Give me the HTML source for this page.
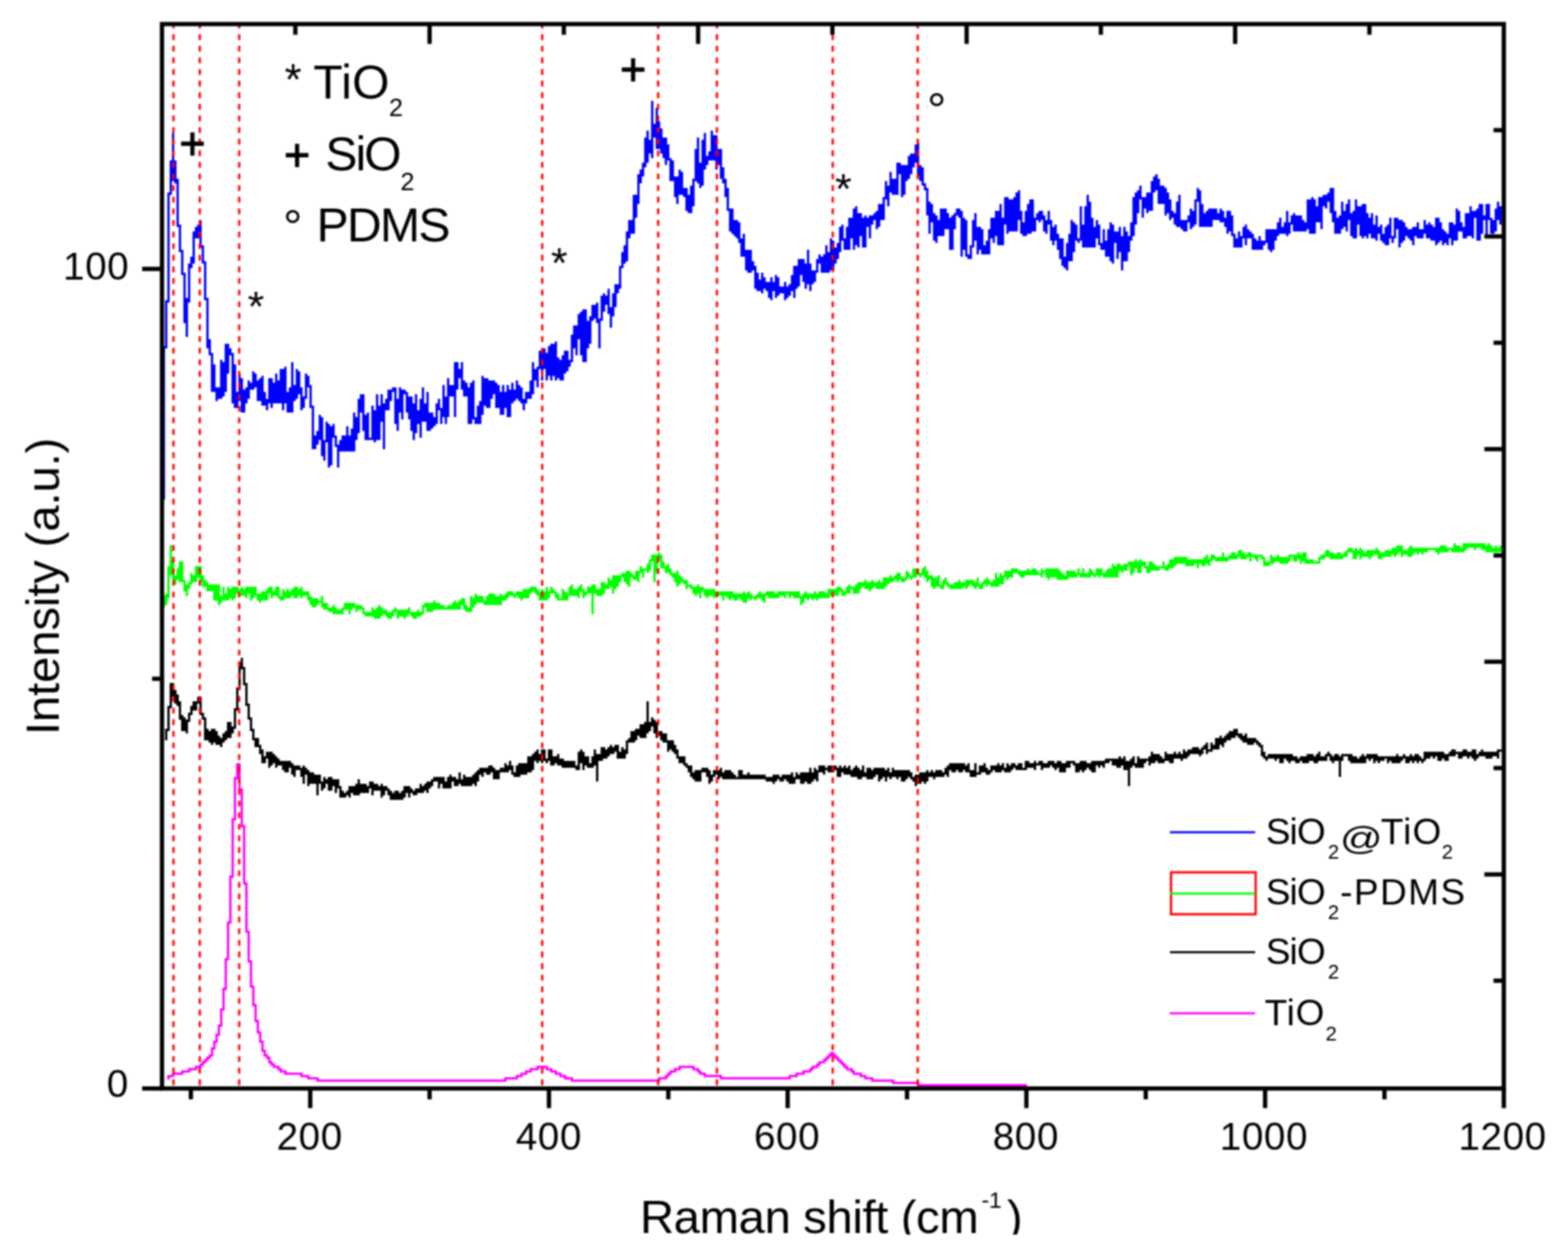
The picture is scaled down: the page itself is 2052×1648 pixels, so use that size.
<!DOCTYPE html>
<html><head><meta charset="utf-8"><title>Raman spectra</title>
<style>html,body{margin:0;padding:0;background:#fff;}svg{display:block;}#plot{width:2052px;height:1648px;overflow:hidden;filter:blur(0.8px);}</style>
</head><body>
<div id="plot">
<svg width="2052" height="1648" viewBox="0 0 2052 1648" font-family='"Liberation Sans", Arial, sans-serif'>
<rect x="0" y="0" width="2052" height="1648" fill="#fff"/>
<path d="M213 453h3v201h-3zM216 393h3v63h-3zM219 252h3v144h-3zM222 210h3v45h-3zM225 174h3v63h-3zM228 210h3v30h-3zM231 234h3v63h-3zM234 294h3v36h-3zM237 327h3v33h-3zM240 357h3v66h-3zM243 390h3v51h-3zM246 345h3v51h-3zM249 336h3v15h-3zM252 303h3v42h-3zM255 297h3v15h-3zM258 294h3v18h-3zM261 288h3v36h-3zM264 321h3v24h-3zM267 342h3v51h-3zM270 390h3v66h-3zM273 444h3v21h-3zM276 462h3v51h-3zM279 477h3v36h-3zM282 507h3v18h-3zM285 507h3v15h-3zM288 471h3v51h-3zM291 474h3v45h-3zM294 450h3v63h-3zM297 450h3v39h-3zM300 456h3v9h-3zM303 462h3v66h-3zM306 477h3v57h-3zM309 513h3v21h-3zM312 489h3v36h-3zM315 495h3v45h-3zM318 510h3v30h-3zM321 507h3v21h-3zM324 498h3v24h-3zM327 501h3v9h-3zM330 486h3v24h-3zM333 489h3v18h-3zM336 498h3v27h-3zM339 495h3v30h-3zM342 492h3v39h-3zM345 513h3v18h-3zM348 522h3v15h-3zM351 495h3v33h-3zM354 495h3v39h-3zM357 501h3v27h-3zM360 489h3v39h-3zM363 498h3v30h-3zM366 483h3v45h-3zM369 483h3v54h-3zM372 480h3v48h-3zM375 513h3v27h-3zM378 507h3v33h-3zM381 474h3v66h-3zM384 504h3v21h-3zM387 483h3v39h-3zM390 486h3v30h-3zM393 507h3v30h-3zM396 519h3v15h-3zM399 489h3v33h-3zM402 492h3v15h-3zM405 504h3v30h-3zM408 531h3v57h-3zM411 570h3v18h-3zM414 564h3v18h-3zM417 543h3v33h-3zM420 546h3v51h-3zM423 576h3v27h-3zM426 552h3v27h-3zM429 555h3v57h-3zM432 558h3v51h-3zM435 555h3v18h-3zM438 570h3v15h-3zM441 582h3v30h-3zM444 576h3v15h-3zM447 570h3v21h-3zM450 570h3v21h-3zM453 558h3v33h-3zM456 570h3v21h-3zM459 561h3v30h-3zM462 540h3v51h-3zM465 546h3v30h-3zM468 522h3v45h-3zM471 516h3v24h-3zM474 516h3v48h-3zM477 543h3v33h-3zM480 540h3v36h-3zM483 573h3v3h-3zM486 531h3v45h-3zM489 537h3v42h-3zM492 516h3v60h-3zM495 531h3v45h-3zM498 516h3v36h-3zM501 528h3v60h-3zM504 522h3v15h-3zM507 510h3v27h-3zM510 510h3v15h-3zM513 507h3v6h-3zM516 507h3v48h-3zM519 522h3v42h-3zM522 507h3v33h-3zM525 510h3v39h-3zM528 510h3v6h-3zM531 513h3v27h-3zM534 519h3v30h-3zM537 519h3v45h-3zM540 528h3v48h-3zM543 516h3v51h-3zM546 537h3v18h-3zM549 522h3v51h-3zM552 507h3v45h-3zM555 528h3v24h-3zM558 513h3v51h-3zM561 540h3v24h-3zM564 540h3v21h-3zM567 546h3v12h-3zM570 528h3v27h-3zM573 522h3v15h-3zM576 534h3v21h-3zM579 504h3v42h-3zM582 519h3v36h-3zM585 495h3v51h-3zM588 504h3v15h-3zM591 504h3v15h-3zM594 474h3v72h-3zM597 474h3v36h-3zM600 483h3v12h-3zM603 474h3v36h-3zM606 498h3v21h-3zM609 501h3v18h-3zM612 507h3v48h-3zM615 501h3v54h-3zM618 498h3v51h-3zM621 546h3v9h-3zM624 531h3v24h-3zM627 525h3v30h-3zM630 492h3v51h-3zM633 495h3v36h-3zM636 495h3v39h-3zM639 498h3v36h-3zM642 498h3v24h-3zM645 498h3v18h-3zM648 501h3v33h-3zM651 504h3v30h-3zM654 513h3v30h-3zM657 504h3v39h-3zM660 513h3v21h-3zM663 504h3v42h-3zM666 510h3v36h-3zM669 501h3v27h-3zM672 510h3v15h-3zM675 498h3v24h-3zM678 504h3v21h-3zM681 507h3v21h-3zM684 522h3v15h-3zM687 513h3v15h-3zM690 513h3v9h-3zM693 498h3v24h-3zM696 474h3v42h-3zM699 483h3v15h-3zM702 480h3v27h-3zM705 459h3v24h-3zM708 456h3v42h-3zM711 456h3v27h-3zM714 462h3v36h-3zM717 453h3v39h-3zM720 450h3v48h-3zM723 450h3v42h-3zM726 447h3v51h-3zM729 468h3v27h-3zM732 471h3v27h-3zM735 465h3v33h-3zM738 459h3v30h-3zM741 459h3v27h-3zM744 471h3v9h-3zM747 438h3v36h-3zM750 426h3v30h-3zM753 426h3v39h-3zM756 411h3v33h-3zM759 408h3v57h-3zM762 405h3v69h-3zM765 405h3v69h-3zM768 420h3v36h-3zM771 414h3v36h-3zM774 399h3v21h-3zM777 399h3v18h-3zM780 396h3v27h-3zM783 417h3v39h-3zM786 387h3v33h-3zM789 384h3v24h-3zM792 387h3v12h-3zM795 378h3v33h-3zM798 402h3v27h-3zM801 384h3v30h-3zM804 372h3v30h-3zM807 372h3v12h-3zM810 348h3v30h-3zM813 330h3v21h-3zM816 321h3v24h-3zM819 303h3v39h-3zM822 288h3v24h-3zM825 288h3v18h-3zM828 255h3v51h-3zM831 255h3v30h-3zM834 228h3v39h-3zM837 222h3v18h-3zM840 213h3v18h-3zM843 180h3v39h-3zM846 171h3v42h-3zM849 183h3v18h-3zM852 132h3v75h-3zM855 162h3v18h-3zM858 141h3v54h-3zM861 159h3v36h-3zM864 168h3v33h-3zM867 180h3v27h-3zM870 180h3v36h-3zM873 189h3v21h-3zM876 207h3v30h-3zM879 210h3v27h-3zM882 231h3v27h-3zM885 231h3v36h-3zM888 222h3v33h-3zM891 225h3v30h-3zM894 246h3v12h-3zM897 246h3v30h-3zM900 255h3v24h-3zM903 243h3v36h-3zM906 234h3v36h-3zM909 195h3v42h-3zM912 180h3v60h-3zM915 213h3v33h-3zM918 183h3v60h-3zM921 174h3v48h-3zM924 204h3v12h-3zM927 198h3v12h-3zM930 171h3v39h-3zM933 177h3v33h-3zM936 177h3v45h-3zM939 195h3v21h-3zM942 195h3v39h-3zM945 219h3v21h-3zM948 234h3v24h-3zM951 246h3v30h-3zM954 273h3v30h-3zM957 273h3v33h-3zM960 288h3v21h-3zM963 288h3v24h-3zM966 291h3v27h-3zM969 312h3v24h-3zM972 306h3v30h-3zM975 327h3v27h-3zM978 327h3v30h-3zM981 327h3v30h-3zM984 342h3v12h-3zM987 348h3v30h-3zM990 357h3v24h-3zM993 366h3v15h-3zM996 357h3v27h-3zM999 363h3v15h-3zM1002 369h3v12h-3zM1005 369h3v21h-3zM1008 363h3v30h-3zM1011 369h3v12h-3zM1014 360h3v30h-3zM1017 363h3v24h-3zM1020 375h3v9h-3zM1023 375h3v9h-3zM1026 369h3v24h-3zM1029 375h3v15h-3zM1032 372h3v15h-3zM1035 360h3v21h-3zM1038 348h3v42h-3zM1041 348h3v30h-3zM1044 339h3v36h-3zM1047 339h3v21h-3zM1050 339h3v30h-3zM1053 345h3v33h-3zM1056 327h3v45h-3zM1059 345h3v36h-3zM1062 354h3v18h-3zM1065 354h3v15h-3zM1068 339h3v18h-3zM1071 333h3v12h-3zM1074 336h3v21h-3zM1077 333h3v24h-3zM1080 321h3v36h-3zM1083 330h3v27h-3zM1086 312h3v42h-3zM1089 315h3v39h-3zM1092 324h3v21h-3zM1095 318h3v21h-3zM1098 297h3v33h-3zM1101 294h3v21h-3zM1104 312h3v15h-3zM1107 297h3v30h-3zM1110 285h3v42h-3zM1113 285h3v27h-3zM1116 273h3v54h-3zM1119 270h3v51h-3zM1122 279h3v45h-3zM1125 279h3v30h-3zM1128 285h3v39h-3zM1131 282h3v42h-3zM1134 285h3v12h-3zM1137 282h3v30h-3zM1140 282h3v12h-3zM1143 279h3v9h-3zM1146 276h3v24h-3zM1149 267h3v30h-3zM1152 267h3v21h-3zM1155 258h3v30h-3zM1158 237h3v24h-3zM1161 243h3v27h-3zM1164 225h3v27h-3zM1167 234h3v21h-3zM1170 234h3v21h-3zM1173 213h3v42h-3zM1176 213h3v15h-3zM1179 216h3v42h-3zM1182 216h3v39h-3zM1185 216h3v21h-3zM1188 204h3v30h-3zM1191 201h3v27h-3zM1194 201h3v18h-3zM1197 189h3v24h-3zM1200 186h3v45h-3zM1203 216h3v21h-3zM1206 219h3v24h-3zM1209 240h3v9h-3zM1212 246h3v36h-3zM1215 264h3v42h-3zM1218 267h3v24h-3zM1221 279h3v36h-3zM1224 282h3v36h-3zM1227 288h3v21h-3zM1230 273h3v36h-3zM1233 273h3v36h-3zM1236 273h3v27h-3zM1239 279h3v21h-3zM1242 285h3v42h-3zM1245 282h3v45h-3zM1248 279h3v21h-3zM1251 273h3v9h-3zM1254 273h3v12h-3zM1257 276h3v60h-3zM1260 285h3v42h-3zM1263 288h3v48h-3zM1266 333h3v6h-3zM1269 321h3v18h-3zM1272 288h3v36h-3zM1275 279h3v36h-3zM1278 297h3v36h-3zM1281 297h3v30h-3zM1284 300h3v33h-3zM1287 321h3v12h-3zM1290 315h3v18h-3zM1293 300h3v33h-3zM1296 285h3v27h-3zM1299 285h3v33h-3zM1302 276h3v33h-3zM1305 276h3v45h-3zM1308 267h3v54h-3zM1311 285h3v36h-3zM1314 258h3v36h-3zM1317 258h3v48h-3zM1320 261h3v42h-3zM1323 261h3v42h-3zM1326 258h3v45h-3zM1329 252h3v51h-3zM1332 249h3v39h-3zM1335 276h3v30h-3zM1338 291h3v18h-3zM1341 276h3v33h-3zM1344 267h3v39h-3zM1347 261h3v45h-3zM1350 261h3v42h-3zM1353 285h3v18h-3zM1356 279h3v9h-3zM1359 276h3v15h-3zM1362 276h3v12h-3zM1365 282h3v21h-3zM1368 288h3v18h-3zM1371 276h3v18h-3zM1374 288h3v27h-3zM1377 297h3v24h-3zM1380 294h3v21h-3zM1383 306h3v21h-3zM1386 312h3v27h-3zM1389 312h3v36h-3zM1392 336h3v15h-3zM1395 318h3v36h-3zM1398 306h3v36h-3zM1401 288h3v54h-3zM1404 291h3v39h-3zM1407 294h3v21h-3zM1410 312h3v6h-3zM1413 270h3v45h-3zM1416 294h3v30h-3zM1419 270h3v54h-3zM1422 255h3v69h-3zM1425 264h3v60h-3zM1428 285h3v39h-3zM1431 297h3v27h-3zM1434 288h3v24h-3zM1437 294h3v27h-3zM1440 318h3v9h-3zM1443 300h3v27h-3zM1446 315h3v21h-3zM1449 300h3v36h-3zM1452 291h3v51h-3zM1455 294h3v51h-3zM1458 303h3v15h-3zM1461 303h3v36h-3zM1464 297h3v33h-3zM1467 309h3v45h-3zM1470 297h3v45h-3zM1473 303h3v39h-3zM1476 309h3v21h-3zM1479 291h3v24h-3zM1482 258h3v51h-3zM1485 252h3v42h-3zM1488 249h3v30h-3zM1491 243h3v18h-3zM1494 258h3v27h-3zM1497 258h3v15h-3zM1500 252h3v27h-3zM1503 252h3v24h-3zM1506 237h3v39h-3zM1509 231h3v21h-3zM1512 228h3v21h-3zM1515 234h3v33h-3zM1518 243h3v24h-3zM1521 243h3v24h-3zM1524 246h3v36h-3zM1527 252h3v27h-3zM1530 261h3v27h-3zM1533 276h3v9h-3zM1536 279h3v15h-3zM1539 264h3v33h-3zM1542 255h3v42h-3zM1545 288h3v12h-3zM1548 288h3v15h-3zM1551 288h3v15h-3zM1554 282h3v9h-3zM1557 273h3v27h-3zM1560 276h3v21h-3zM1563 261h3v33h-3zM1566 246h3v18h-3zM1569 249h3v48h-3zM1572 267h3v30h-3zM1575 279h3v18h-3zM1578 276h3v21h-3zM1581 273h3v24h-3zM1584 273h3v24h-3zM1587 273h3v15h-3zM1590 273h3v15h-3zM1593 279h3v9h-3zM1596 273h3v18h-3zM1599 276h3v15h-3zM1602 285h3v12h-3zM1605 276h3v30h-3zM1608 276h3v27h-3zM1611 282h3v27h-3zM1614 306h3v18h-3zM1617 312h3v12h-3zM1620 303h3v21h-3zM1623 309h3v15h-3zM1626 297h3v15h-3zM1629 294h3v27h-3zM1632 300h3v12h-3zM1635 303h3v9h-3zM1638 306h3v21h-3zM1641 312h3v15h-3zM1644 315h3v12h-3zM1647 309h3v18h-3zM1650 315h3v12h-3zM1653 315h3v6h-3zM1656 300h3v18h-3zM1659 300h3v27h-3zM1662 300h3v30h-3zM1665 300h3v27h-3zM1668 300h3v15h-3zM1671 291h3v18h-3zM1674 285h3v21h-3zM1677 297h3v9h-3zM1680 291h3v15h-3zM1683 276h3v33h-3zM1686 291h3v15h-3zM1689 282h3v12h-3zM1692 279h3v24h-3zM1695 282h3v21h-3zM1698 282h3v21h-3zM1701 282h3v21h-3zM1704 288h3v15h-3zM1707 291h3v12h-3zM1710 261h3v39h-3zM1713 261h3v45h-3zM1716 258h3v48h-3zM1719 261h3v45h-3zM1722 270h3v21h-3zM1725 258h3v33h-3zM1728 258h3v42h-3zM1731 255h3v15h-3zM1734 255h3v18h-3zM1737 252h3v12h-3zM1740 246h3v33h-3zM1743 246h3v45h-3zM1746 276h3v30h-3zM1749 285h3v21h-3zM1752 282h3v24h-3zM1755 264h3v36h-3zM1758 276h3v21h-3zM1761 267h3v36h-3zM1764 261h3v27h-3zM1767 279h3v30h-3zM1770 276h3v36h-3zM1773 261h3v51h-3zM1776 270h3v24h-3zM1779 270h3v39h-3zM1782 267h3v45h-3zM1785 267h3v42h-3zM1788 279h3v33h-3zM1791 285h3v21h-3zM1794 279h3v33h-3zM1797 294h3v18h-3zM1800 282h3v33h-3zM1803 297h3v9h-3zM1806 294h3v21h-3zM1809 306h3v12h-3zM1812 297h3v24h-3zM1815 294h3v27h-3zM1818 285h3v27h-3zM1821 309h3v9h-3zM1824 285h3v27h-3zM1827 285h3v15h-3zM1830 288h3v36h-3zM1833 288h3v30h-3zM1836 291h3v24h-3zM1839 297h3v12h-3zM1842 300h3v12h-3zM1845 300h3v15h-3zM1848 297h3v24h-3zM1851 297h3v12h-3zM1854 291h3v21h-3zM1857 300h3v12h-3zM1860 300h3v12h-3zM1863 288h3v18h-3zM1866 294h3v18h-3zM1869 291h3v21h-3zM1872 294h3v21h-3zM1875 297h3v18h-3zM1878 285h3v36h-3zM1881 285h3v33h-3zM1884 291h3v24h-3zM1887 300h3v21h-3zM1890 303h3v15h-3zM1893 306h3v15h-3zM1896 291h3v21h-3zM1899 291h3v30h-3zM1902 294h3v21h-3zM1905 273h3v42h-3zM1908 276h3v27h-3zM1911 291h3v12h-3zM1914 297h3v15h-3zM1917 279h3v33h-3zM1920 279h3v30h-3zM1923 270h3v39h-3zM1926 276h3v36h-3zM1929 276h3v9h-3zM1932 273h3v42h-3zM1935 267h3v48h-3zM1938 267h3v39h-3zM1941 282h3v6h-3zM1944 267h3v45h-3zM1947 267h3v21h-3zM1950 285h3v21h-3zM1953 288h3v18h-3zM1956 273h3v30h-3zM1959 264h3v24h-3zM1962 270h3v24h-3zM1965 270h3v3h-3z" fill="#0000ff"/>
<path d="M210 792h3v6h-3zM213 780h3v15h-3zM216 777h3v15h-3zM219 741h3v42h-3zM222 714h3v39h-3zM225 732h3v27h-3zM228 753h3v12h-3zM231 744h3v15h-3zM234 735h3v27h-3zM237 735h3v27h-3zM240 759h3v15h-3zM243 765h3v15h-3zM246 762h3v9h-3zM249 750h3v15h-3zM252 753h3v9h-3zM255 741h3v21h-3zM258 741h3v15h-3zM261 741h3v21h-3zM264 753h3v15h-3zM267 759h3v9h-3zM270 762h3v12h-3zM273 765h3v9h-3zM276 765h3v9h-3zM279 765h3v21h-3zM282 765h3v21h-3zM285 765h3v27h-3zM288 780h3v9h-3zM291 768h3v18h-3zM294 777h3v9h-3zM297 768h3v18h-3zM300 771h3v12h-3zM303 768h3v18h-3zM306 768h3v15h-3zM309 768h3v9h-3zM312 771h3v3h-3zM315 768h3v12h-3zM318 771h3v9h-3zM321 768h3v15h-3zM324 768h3v9h-3zM327 768h3v18h-3zM330 768h3v15h-3zM333 768h3v12h-3zM336 777h3v9h-3zM339 777h3v12h-3zM342 774h3v12h-3zM345 774h3v12h-3zM348 771h3v15h-3zM351 768h3v9h-3zM354 768h3v15h-3zM357 774h3v6h-3zM360 768h3v12h-3zM363 768h3v15h-3zM366 780h3v6h-3zM369 771h3v15h-3zM372 774h3v9h-3zM375 771h3v12h-3zM378 774h3v9h-3zM381 771h3v9h-3zM384 768h3v15h-3zM387 768h3v15h-3zM390 771h3v9h-3zM393 768h3v15h-3zM396 774h3v6h-3zM399 774h3v6h-3zM402 774h3v12h-3zM405 780h3v12h-3zM408 783h3v12h-3zM411 783h3v12h-3zM414 783h3v9h-3zM417 786h3v3h-3zM420 780h3v15h-3zM423 789h3v9h-3zM426 789h3v9h-3zM429 795h3v6h-3zM432 795h3v6h-3zM435 792h3v12h-3zM438 795h3v9h-3zM441 798h3v6h-3zM444 798h3v6h-3zM447 795h3v9h-3zM450 789h3v9h-3zM453 789h3v9h-3zM456 789h3v15h-3zM459 789h3v9h-3zM462 789h3v6h-3zM465 792h3v9h-3zM468 792h3v6h-3zM471 792h3v6h-3zM474 795h3v9h-3zM477 801h3v6h-3zM480 801h3v6h-3zM483 801h3v6h-3zM486 795h3v12h-3zM489 798h3v12h-3zM492 795h3v15h-3zM495 792h3v18h-3zM498 795h3v12h-3zM501 798h3v6h-3zM504 798h3v9h-3zM507 801h3v9h-3zM510 801h3v9h-3zM513 798h3v9h-3zM516 795h3v6h-3zM519 798h3v12h-3zM522 798h3v9h-3zM525 798h3v9h-3zM528 798h3v12h-3zM531 798h3v9h-3zM534 795h3v9h-3zM537 801h3v6h-3zM540 801h3v9h-3zM543 801h3v9h-3zM546 798h3v9h-3zM549 801h3v6h-3zM552 792h3v12h-3zM555 789h3v6h-3zM558 789h3v12h-3zM561 789h3v12h-3zM564 789h3v12h-3zM567 786h3v12h-3zM570 789h3v9h-3zM573 789h3v9h-3zM576 792h3v6h-3zM579 792h3v6h-3zM582 795h3v3h-3zM585 792h3v6h-3zM588 792h3v6h-3zM591 789h3v9h-3zM594 786h3v12h-3zM597 789h3v9h-3zM600 786h3v12h-3zM603 783h3v9h-3zM606 783h3v15h-3zM609 792h3v9h-3zM612 795h3v6h-3zM615 780h3v21h-3zM618 783h3v12h-3zM621 777h3v15h-3zM624 780h3v9h-3zM627 780h3v9h-3zM630 780h3v9h-3zM633 786h3v6h-3zM636 780h3v12h-3zM639 777h3v15h-3zM642 777h3v15h-3zM645 777h3v15h-3zM648 780h3v12h-3zM651 780h3v12h-3zM654 777h3v15h-3zM657 780h3v6h-3zM660 777h3v9h-3zM663 774h3v9h-3zM666 774h3v6h-3zM669 774h3v6h-3zM672 777h3v6h-3zM675 774h3v6h-3zM678 774h3v9h-3zM681 774h3v12h-3zM684 771h3v12h-3zM687 771h3v12h-3zM690 771h3v12h-3zM693 768h3v9h-3zM696 768h3v6h-3zM699 768h3v9h-3zM702 771h3v9h-3zM705 774h3v12h-3zM708 771h3v15h-3zM711 774h3v12h-3zM714 768h3v18h-3zM717 774h3v9h-3zM720 768h3v9h-3zM723 771h3v6h-3zM726 774h3v9h-3zM729 777h3v9h-3zM732 783h3v3h-3zM735 771h3v15h-3zM738 774h3v12h-3zM741 777h3v9h-3zM744 768h3v12h-3zM747 765h3v15h-3zM750 771h3v9h-3zM753 771h3v9h-3zM756 768h3v15h-3zM759 765h3v9h-3zM762 771h3v12h-3zM765 774h3v6h-3zM768 768h3v9h-3zM771 768h3v9h-3zM774 765h3v39h-3zM777 765h3v12h-3zM780 771h3v9h-3zM783 771h3v9h-3zM786 762h3v18h-3zM789 762h3v15h-3zM792 765h3v6h-3zM795 756h3v15h-3zM798 759h3v9h-3zM801 753h3v24h-3zM804 753h3v18h-3zM807 753h3v15h-3zM810 753h3v9h-3zM813 750h3v6h-3zM816 750h3v12h-3zM819 747h3v18h-3zM822 747h3v21h-3zM825 750h3v6h-3zM828 753h3v6h-3zM831 747h3v12h-3zM834 747h3v15h-3zM837 741h3v9h-3zM840 744h3v12h-3zM843 744h3v3h-3zM846 738h3v12h-3zM849 732h3v15h-3zM852 726h3v9h-3zM855 726h3v36h-3zM858 726h3v24h-3zM861 723h3v9h-3zM864 726h3v18h-3zM867 735h3v9h-3zM870 741h3v9h-3zM873 738h3v12h-3zM876 744h3v9h-3zM879 750h3v6h-3zM882 750h3v12h-3zM885 747h3v21h-3zM888 753h3v12h-3zM891 756h3v6h-3zM894 759h3v6h-3zM897 759h3v12h-3zM900 765h3v3h-3zM903 765h3v6h-3zM906 768h3v9h-3zM909 768h3v12h-3zM912 765h3v12h-3zM915 768h3v15h-3zM918 768h3v6h-3zM921 771h3v9h-3zM924 771h3v12h-3zM927 771h3v9h-3zM930 771h3v9h-3zM933 771h3v12h-3zM936 774h3v6h-3zM939 774h3v6h-3zM942 774h3v6h-3zM945 774h3v12h-3zM948 774h3v6h-3zM951 774h3v9h-3zM954 774h3v12h-3zM957 774h3v9h-3zM960 777h3v9h-3zM963 777h3v9h-3zM966 777h3v6h-3zM969 777h3v9h-3zM972 774h3v15h-3zM975 777h3v12h-3zM978 774h3v9h-3zM981 777h3v9h-3zM984 780h3v3h-3zM987 780h3v6h-3zM990 777h3v6h-3zM993 774h3v9h-3zM996 777h3v9h-3zM999 777h3v12h-3zM1002 774h3v6h-3zM1005 774h3v9h-3zM1008 774h3v9h-3zM1011 774h3v9h-3zM1014 777h3v6h-3zM1017 774h3v9h-3zM1020 774h3v6h-3zM1023 774h3v6h-3zM1026 774h3v9h-3zM1029 774h3v3h-3zM1032 774h3v9h-3zM1035 774h3v6h-3zM1038 774h3v9h-3zM1041 774h3v9h-3zM1044 774h3v9h-3zM1047 780h3v12h-3zM1050 777h3v12h-3zM1053 774h3v9h-3zM1056 777h3v9h-3zM1059 777h3v6h-3zM1062 777h3v9h-3zM1065 774h3v9h-3zM1068 777h3v9h-3zM1071 774h3v9h-3zM1074 774h3v9h-3zM1077 774h3v9h-3zM1080 777h3v6h-3zM1083 771h3v12h-3zM1086 771h3v9h-3zM1089 771h3v6h-3zM1092 771h3v9h-3zM1095 768h3v12h-3zM1098 768h3v6h-3zM1101 771h3v9h-3zM1104 774h3v6h-3zM1107 768h3v9h-3zM1110 765h3v12h-3zM1113 768h3v3h-3zM1116 768h3v9h-3zM1119 765h3v12h-3zM1122 762h3v15h-3zM1125 762h3v9h-3zM1128 762h3v6h-3zM1131 759h3v12h-3zM1134 762h3v9h-3zM1137 762h3v12h-3zM1140 759h3v12h-3zM1143 762h3v6h-3zM1146 762h3v9h-3zM1149 759h3v12h-3zM1152 762h3v9h-3zM1155 756h3v15h-3zM1158 756h3v12h-3zM1161 756h3v9h-3zM1164 753h3v9h-3zM1167 756h3v6h-3zM1170 753h3v6h-3zM1173 750h3v12h-3zM1176 750h3v9h-3zM1179 756h3v6h-3zM1182 756h3v6h-3zM1185 747h3v12h-3zM1188 750h3v6h-3zM1191 753h3v6h-3zM1194 744h3v12h-3zM1197 744h3v12h-3zM1200 744h3v9h-3zM1203 750h3v6h-3zM1206 744h3v9h-3zM1209 741h3v15h-3zM1212 747h3v15h-3zM1215 753h3v6h-3zM1218 753h3v15h-3zM1221 756h3v15h-3zM1224 756h3v12h-3zM1227 753h3v15h-3zM1230 765h3v6h-3zM1233 759h3v12h-3zM1236 756h3v9h-3zM1239 762h3v6h-3zM1242 765h3v6h-3zM1245 765h3v6h-3zM1248 762h3v9h-3zM1251 762h3v9h-3zM1254 759h3v12h-3zM1257 762h3v9h-3zM1260 762h3v6h-3zM1263 759h3v12h-3zM1266 759h3v9h-3zM1269 759h3v6h-3zM1272 759h3v9h-3zM1275 762h3v9h-3zM1278 756h3v12h-3zM1281 765h3v6h-3zM1284 762h3v9h-3zM1287 759h3v6h-3zM1290 756h3v12h-3zM1293 759h3v6h-3zM1296 762h3v6h-3zM1299 759h3v9h-3zM1302 750h3v18h-3zM1305 756h3v12h-3zM1308 750h3v15h-3zM1311 753h3v12h-3zM1314 747h3v9h-3zM1317 747h3v12h-3zM1320 747h3v9h-3zM1323 744h3v12h-3zM1326 744h3v6h-3zM1329 744h3v6h-3zM1332 747h3v6h-3zM1335 747h3v9h-3zM1338 747h3v9h-3zM1341 747h3v6h-3zM1344 744h3v9h-3zM1347 747h3v6h-3zM1350 744h3v9h-3zM1353 744h3v9h-3zM1356 747h3v6h-3zM1359 750h3v3h-3zM1362 744h3v12h-3zM1365 747h3v3h-3zM1368 744h3v12h-3zM1371 744h3v15h-3zM1374 744h3v12h-3zM1377 744h3v12h-3zM1380 744h3v12h-3zM1383 744h3v15h-3zM1386 747h3v12h-3zM1389 750h3v9h-3zM1392 753h3v6h-3zM1395 747h3v12h-3zM1398 747h3v9h-3zM1401 747h3v9h-3zM1404 747h3v9h-3zM1407 750h3v6h-3zM1410 744h3v9h-3zM1413 750h3v6h-3zM1416 744h3v12h-3zM1419 750h3v6h-3zM1422 750h3v6h-3zM1425 744h3v12h-3zM1428 747h3v6h-3zM1431 750h3v6h-3zM1434 744h3v9h-3zM1437 744h3v12h-3zM1440 744h3v9h-3zM1443 750h3v6h-3zM1446 747h3v9h-3zM1449 744h3v12h-3zM1452 744h3v12h-3zM1455 738h3v18h-3zM1458 741h3v15h-3zM1461 738h3v18h-3zM1464 738h3v9h-3zM1467 741h3v9h-3zM1470 738h3v9h-3zM1473 738h3v9h-3zM1476 735h3v6h-3zM1479 735h3v18h-3zM1482 735h3v15h-3zM1485 732h3v12h-3zM1488 735h3v15h-3zM1491 732h3v18h-3zM1494 735h3v6h-3zM1497 735h3v9h-3zM1500 741h3v9h-3zM1503 735h3v15h-3zM1506 735h3v12h-3zM1509 738h3v9h-3zM1512 741h3v6h-3zM1515 741h3v6h-3zM1518 741h3v3h-3zM1521 735h3v9h-3zM1524 741h3v6h-3zM1527 738h3v9h-3zM1530 732h3v12h-3zM1533 732h3v12h-3zM1536 729h3v12h-3zM1539 729h3v9h-3zM1542 729h3v9h-3zM1545 729h3v9h-3zM1548 729h3v9h-3zM1551 729h3v12h-3zM1554 732h3v9h-3zM1557 732h3v9h-3zM1560 732h3v9h-3zM1563 732h3v6h-3zM1566 732h3v12h-3zM1569 732h3v6h-3zM1572 732h3v9h-3zM1575 729h3v12h-3zM1578 726h3v12h-3zM1581 732h3v9h-3zM1584 726h3v9h-3zM1587 726h3v6h-3zM1590 729h3v6h-3zM1593 729h3v6h-3zM1596 729h3v6h-3zM1599 723h3v12h-3zM1602 729h3v6h-3zM1605 729h3v6h-3zM1608 726h3v6h-3zM1611 723h3v9h-3zM1614 723h3v9h-3zM1617 726h3v6h-3zM1620 720h3v9h-3zM1623 720h3v12h-3zM1626 723h3v9h-3zM1629 726h3v6h-3zM1632 723h3v6h-3zM1635 723h3v12h-3zM1638 726h3v3h-3zM1641 726h3v6h-3zM1644 726h3v9h-3zM1647 726h3v3h-3zM1650 726h3v6h-3zM1653 729h3v12h-3zM1656 735h3v6h-3zM1659 735h3v6h-3zM1662 726h3v12h-3zM1665 729h3v9h-3zM1668 729h3v6h-3zM1671 726h3v9h-3zM1674 729h3v9h-3zM1677 729h3v9h-3zM1680 729h3v9h-3zM1683 729h3v9h-3zM1686 726h3v9h-3zM1689 726h3v3h-3zM1692 726h3v9h-3zM1695 726h3v9h-3zM1698 723h3v9h-3zM1701 726h3v12h-3zM1704 723h3v12h-3zM1707 723h3v15h-3zM1710 732h3v6h-3zM1713 732h3v6h-3zM1716 732h3v6h-3zM1719 735h3v3h-3zM1722 735h3v3h-3zM1725 729h3v9h-3zM1728 726h3v6h-3zM1731 726h3v6h-3zM1734 720h3v9h-3zM1737 720h3v9h-3zM1740 723h3v9h-3zM1743 723h3v9h-3zM1746 726h3v6h-3zM1749 723h3v9h-3zM1752 723h3v9h-3zM1755 726h3v6h-3zM1758 723h3v6h-3zM1761 720h3v9h-3zM1764 717h3v6h-3zM1767 717h3v6h-3zM1770 720h3v12h-3zM1773 717h3v15h-3zM1776 720h3v6h-3zM1779 717h3v15h-3zM1782 720h3v9h-3zM1785 723h3v6h-3zM1788 720h3v9h-3zM1791 720h3v12h-3zM1794 720h3v9h-3zM1797 720h3v6h-3zM1800 717h3v9h-3zM1803 720h3v12h-3zM1806 723h3v9h-3zM1809 723h3v6h-3zM1812 720h3v9h-3zM1815 720h3v9h-3zM1818 720h3v9h-3zM1821 717h3v9h-3zM1824 717h3v12h-3zM1827 714h3v12h-3zM1830 714h3v9h-3zM1833 714h3v15h-3zM1836 720h3v6h-3zM1839 720h3v6h-3zM1842 717h3v12h-3zM1845 714h3v15h-3zM1848 717h3v9h-3zM1851 717h3v6h-3zM1854 717h3v9h-3zM1857 717h3v6h-3zM1860 717h3v9h-3zM1863 717h3v6h-3zM1866 717h3v6h-3zM1869 717h3v3h-3zM1872 717h3v3h-3zM1875 717h3v3h-3zM1878 717h3v6h-3zM1881 717h3v9h-3zM1884 714h3v9h-3zM1887 714h3v9h-3zM1890 714h3v9h-3zM1893 717h3v6h-3zM1896 717h3v3h-3zM1899 717h3v6h-3zM1902 711h3v12h-3zM1905 714h3v9h-3zM1908 714h3v9h-3zM1911 717h3v6h-3zM1914 711h3v12h-3zM1917 711h3v9h-3zM1920 711h3v6h-3zM1923 711h3v6h-3zM1926 711h3v6h-3zM1929 711h3v9h-3zM1932 711h3v6h-3zM1935 711h3v6h-3zM1938 711h3v9h-3zM1941 711h3v9h-3zM1944 714h3v9h-3zM1947 711h3v12h-3zM1950 714h3v9h-3zM1953 717h3v6h-3zM1956 714h3v9h-3zM1959 717h3v6h-3zM1962 714h3v9h-3z" fill="#00ff00"/>
<path d="M216 954h3v15h-3zM219 924h3v33h-3zM222 894h3v33h-3zM225 894h3v18h-3zM228 903h3v18h-3zM231 909h3v15h-3zM234 918h3v24h-3zM237 936h3v21h-3zM240 939h3v18h-3zM243 942h3v18h-3zM246 933h3v12h-3zM249 924h3v12h-3zM252 918h3v12h-3zM255 918h3v12h-3zM258 912h3v9h-3zM261 912h3v24h-3zM264 933h3v9h-3zM267 939h3v30h-3zM270 954h3v15h-3zM273 957h3v15h-3zM276 954h3v21h-3zM279 954h3v18h-3zM282 957h3v18h-3zM285 963h3v12h-3zM288 966h3v12h-3zM291 960h3v12h-3zM294 957h3v12h-3zM297 945h3v21h-3zM300 945h3v21h-3zM303 951h3v9h-3zM306 927h3v27h-3zM309 900h3v30h-3zM312 867h3v36h-3zM315 861h3v15h-3zM318 873h3v24h-3zM321 894h3v30h-3zM324 921h3v21h-3zM327 939h3v18h-3zM330 954h3v15h-3zM333 966h3v12h-3zM336 966h3v12h-3zM339 975h3v12h-3zM342 981h3v18h-3zM345 990h3v9h-3zM348 984h3v9h-3zM351 984h3v21h-3zM354 984h3v18h-3zM357 987h3v12h-3zM360 990h3v15h-3zM363 993h3v9h-3zM366 996h3v6h-3zM369 996h3v12h-3zM372 996h3v15h-3zM375 996h3v15h-3zM378 996h3v9h-3zM381 999h3v15h-3zM384 1002h3v15h-3zM387 1002h3v6h-3zM390 1002h3v6h-3zM393 1005h3v12h-3zM396 1002h3v24h-3zM399 1005h3v9h-3zM402 1008h3v21h-3zM405 1011h3v15h-3zM408 1011h3v15h-3zM411 1014h3v12h-3zM414 1014h3v27h-3zM417 1014h3v12h-3zM420 1023h3v12h-3zM423 1017h3v15h-3zM426 1020h3v6h-3zM429 1017h3v18h-3zM432 1017h3v18h-3zM435 1020h3v9h-3zM438 1020h3v18h-3zM441 1020h3v12h-3zM444 1029h3v15h-3zM447 1035h3v9h-3zM450 1038h3v6h-3zM453 1035h3v6h-3zM456 1029h3v15h-3zM459 1029h3v9h-3zM462 1029h3v12h-3zM465 1026h3v15h-3zM468 1020h3v21h-3zM471 1026h3v12h-3zM474 1026h3v12h-3zM477 1026h3v12h-3zM480 1029h3v9h-3zM483 1023h3v9h-3zM486 1023h3v18h-3zM489 1026h3v9h-3zM492 1026h3v9h-3zM495 1029h3v6h-3zM498 1026h3v18h-3zM501 1029h3v12h-3zM504 1029h3v6h-3zM507 1032h3v9h-3zM510 1035h3v12h-3zM513 1038h3v9h-3zM516 1035h3v12h-3zM519 1035h3v12h-3zM522 1038h3v9h-3zM525 1035h3v12h-3zM528 1029h3v15h-3zM531 1029h3v9h-3zM534 1029h3v15h-3zM537 1032h3v6h-3zM540 1035h3v6h-3zM543 1032h3v9h-3zM546 1032h3v6h-3zM549 1026h3v12h-3zM552 1029h3v9h-3zM555 1026h3v9h-3zM558 1023h3v15h-3zM561 1023h3v9h-3zM564 1020h3v9h-3zM567 1017h3v6h-3zM570 1017h3v6h-3zM573 1017h3v15h-3zM576 1017h3v9h-3zM579 1017h3v15h-3zM582 1023h3v9h-3zM585 1017h3v15h-3zM588 1014h3v18h-3zM591 1017h3v6h-3zM594 1017h3v12h-3zM597 1020h3v9h-3zM600 1011h3v15h-3zM603 1020h3v9h-3zM606 1014h3v15h-3zM609 1017h3v12h-3zM612 1017h3v12h-3zM615 1017h3v12h-3zM618 1014h3v12h-3zM621 1011h3v18h-3zM624 1008h3v15h-3zM627 1005h3v9h-3zM630 1005h3v12h-3zM633 1005h3v6h-3zM636 1005h3v9h-3zM639 1002h3v12h-3zM642 1002h3v9h-3zM645 1005h3v15h-3zM648 1008h3v12h-3zM651 1008h3v12h-3zM654 1005h3v6h-3zM657 1005h3v6h-3zM660 999h3v12h-3zM663 1002h3v9h-3zM666 996h3v12h-3zM669 1002h3v12h-3zM672 1011h3v6h-3zM675 1002h3v15h-3zM678 999h3v18h-3zM681 999h3v15h-3zM684 999h3v15h-3zM687 999h3v15h-3zM690 990h3v21h-3zM693 990h3v21h-3zM696 987h3v21h-3zM699 984h3v12h-3zM702 981h3v18h-3zM705 987h3v9h-3zM708 981h3v18h-3zM711 981h3v15h-3zM714 993h3v6h-3zM717 981h3v15h-3zM720 981h3v21h-3zM723 990h3v12h-3zM726 990h3v9h-3zM729 987h3v15h-3zM732 993h3v9h-3zM735 993h3v12h-3zM738 996h3v9h-3zM741 996h3v9h-3zM744 996h3v9h-3zM747 996h3v9h-3zM750 996h3v9h-3zM753 1002h3v6h-3zM756 984h3v24h-3zM759 981h3v18h-3zM762 984h3v24h-3zM765 990h3v12h-3zM768 990h3v15h-3zM771 999h3v6h-3zM774 990h3v15h-3zM777 981h3v21h-3zM780 987h3v36h-3zM783 987h3v9h-3zM786 978h3v18h-3zM789 978h3v15h-3zM792 981h3v12h-3zM795 978h3v12h-3zM798 975h3v12h-3zM801 978h3v9h-3zM804 975h3v9h-3zM807 975h3v18h-3zM810 984h3v9h-3zM813 978h3v15h-3zM816 981h3v12h-3zM819 969h3v18h-3zM822 966h3v6h-3zM825 957h3v15h-3zM828 957h3v15h-3zM831 954h3v15h-3zM834 954h3v9h-3zM837 948h3v18h-3zM840 948h3v18h-3zM843 945h3v21h-3zM846 918h3v42h-3zM849 945h3v12h-3zM852 939h3v12h-3zM855 942h3v18h-3zM858 945h3v21h-3zM861 957h3v6h-3zM864 957h3v12h-3zM867 960h3v12h-3zM870 960h3v12h-3zM873 969h3v15h-3zM876 969h3v12h-3zM879 969h3v15h-3zM882 975h3v12h-3zM885 981h3v12h-3zM888 990h3v9h-3zM891 990h3v9h-3zM894 990h3v12h-3zM897 999h3v6h-3zM900 1002h3v9h-3zM903 1002h3v15h-3zM906 1011h3v9h-3zM909 1008h3v15h-3zM912 1008h3v15h-3zM915 1008h3v15h-3zM918 1005h3v6h-3zM921 1005h3v6h-3zM924 1005h3v12h-3zM927 1008h3v18h-3zM930 1014h3v9h-3zM933 1008h3v9h-3zM936 1008h3v6h-3zM939 1008h3v12h-3zM942 1005h3v12h-3zM945 1011h3v9h-3zM948 1008h3v12h-3zM951 1008h3v12h-3zM954 1008h3v12h-3zM957 1011h3v9h-3zM960 1014h3v6h-3zM963 1017h3v3h-3zM966 1008h3v12h-3zM969 1008h3v12h-3zM972 1014h3v6h-3zM975 1014h3v6h-3zM978 1011h3v9h-3zM981 1014h3v6h-3zM984 1014h3v6h-3zM987 1014h3v6h-3zM990 1014h3v6h-3zM993 1014h3v6h-3zM996 1014h3v6h-3zM999 1014h3v6h-3zM1002 1017h3v6h-3zM1005 1017h3v6h-3zM1008 1017h3v6h-3zM1011 1014h3v12h-3zM1014 1014h3v9h-3zM1017 1014h3v6h-3zM1020 1017h3v6h-3zM1023 1014h3v9h-3zM1026 1014h3v6h-3zM1029 1014h3v9h-3zM1032 1014h3v12h-3zM1035 1011h3v15h-3zM1038 1017h3v9h-3zM1041 1011h3v9h-3zM1044 1014h3v6h-3zM1047 1011h3v15h-3zM1050 1011h3v15h-3zM1053 1011h3v12h-3zM1056 1011h3v15h-3zM1059 1005h3v21h-3zM1062 1011h3v12h-3zM1065 1005h3v15h-3zM1068 1008h3v15h-3zM1071 1002h3v9h-3zM1074 1002h3v9h-3zM1077 1002h3v12h-3zM1080 1005h3v3h-3zM1083 1002h3v9h-3zM1086 1002h3v9h-3zM1089 1002h3v9h-3zM1092 1002h3v6h-3zM1095 1005h3v12h-3zM1098 1002h3v15h-3zM1101 1005h3v6h-3zM1104 1002h3v12h-3zM1107 1005h3v9h-3zM1110 1002h3v12h-3zM1113 1008h3v9h-3zM1116 1005h3v12h-3zM1119 1002h3v15h-3zM1122 1005h3v15h-3zM1125 1008h3v12h-3zM1128 1002h3v15h-3zM1131 1011h3v6h-3zM1134 1005h3v15h-3zM1137 1005h3v15h-3zM1140 1008h3v12h-3zM1143 1005h3v12h-3zM1146 1005h3v9h-3zM1149 1005h3v18h-3zM1152 1005h3v15h-3zM1155 1005h3v12h-3zM1158 1008h3v15h-3zM1161 1005h3v12h-3zM1164 1011h3v9h-3zM1167 1005h3v12h-3zM1170 1008h3v9h-3zM1173 1008h3v12h-3zM1176 1008h3v9h-3zM1179 1008h3v15h-3zM1182 1008h3v15h-3zM1185 1008h3v12h-3zM1188 1008h3v9h-3zM1191 1011h3v9h-3zM1194 1017h3v6h-3zM1197 1014h3v15h-3zM1200 1014h3v12h-3zM1203 1011h3v15h-3zM1206 1011h3v12h-3zM1209 1011h3v15h-3zM1212 1008h3v15h-3zM1215 1011h3v6h-3zM1218 1008h3v9h-3zM1221 1011h3v9h-3zM1224 1008h3v9h-3zM1227 1008h3v9h-3zM1230 1008h3v9h-3zM1233 1011h3v6h-3zM1236 1005h3v9h-3zM1239 1002h3v15h-3zM1242 999h3v9h-3zM1245 999h3v12h-3zM1248 999h3v12h-3zM1251 999h3v9h-3zM1254 999h3v12h-3zM1257 999h3v12h-3zM1260 999h3v9h-3zM1263 1002h3v9h-3zM1266 999h3v12h-3zM1269 1008h3v9h-3zM1272 1008h3v9h-3zM1275 999h3v18h-3zM1278 1011h3v3h-3zM1281 1002h3v12h-3zM1284 1002h3v9h-3zM1287 999h3v12h-3zM1290 1005h3v9h-3zM1293 1008h3v6h-3zM1296 1002h3v9h-3zM1299 1002h3v6h-3zM1302 1002h3v9h-3zM1305 999h3v12h-3zM1308 1002h3v9h-3zM1311 999h3v9h-3zM1314 1005h3v6h-3zM1317 999h3v12h-3zM1320 1002h3v9h-3zM1323 999h3v9h-3zM1326 999h3v6h-3zM1329 1002h3v6h-3zM1332 999h3v9h-3zM1335 999h3v9h-3zM1338 1005h3v3h-3zM1341 996h3v12h-3zM1344 996h3v9h-3zM1347 999h3v6h-3zM1350 999h3v6h-3zM1353 996h3v12h-3zM1356 999h3v3h-3zM1359 996h3v6h-3zM1362 996h3v12h-3zM1365 999h3v6h-3zM1368 999h3v6h-3zM1371 996h3v9h-3zM1374 996h3v6h-3zM1377 996h3v9h-3zM1380 999h3v9h-3zM1383 996h3v9h-3zM1386 996h3v15h-3zM1389 999h3v12h-3zM1392 999h3v12h-3zM1395 996h3v9h-3zM1398 996h3v9h-3zM1401 996h3v3h-3zM1404 996h3v6h-3zM1407 999h3v12h-3zM1410 999h3v12h-3zM1413 996h3v12h-3zM1416 996h3v15h-3zM1419 996h3v12h-3zM1422 999h3v6h-3zM1425 999h3v9h-3zM1428 996h3v15h-3zM1431 996h3v15h-3zM1434 996h3v6h-3zM1437 996h3v9h-3zM1440 996h3v6h-3zM1443 996h3v9h-3zM1446 993h3v6h-3zM1449 993h3v6h-3zM1452 993h3v3h-3zM1455 993h3v9h-3zM1458 993h3v9h-3zM1461 993h3v12h-3zM1464 990h3v15h-3zM1467 993h3v9h-3zM1470 990h3v18h-3zM1473 996h3v12h-3zM1476 996h3v33h-3zM1479 993h3v12h-3zM1482 990h3v12h-3zM1485 999h3v6h-3zM1488 990h3v15h-3zM1491 993h3v12h-3zM1494 993h3v12h-3zM1497 993h3v6h-3zM1500 993h3v3h-3zM1503 990h3v12h-3zM1506 984h3v15h-3zM1509 987h3v12h-3zM1512 987h3v9h-3zM1515 987h3v12h-3zM1518 990h3v9h-3zM1521 993h3v6h-3zM1524 984h3v12h-3zM1527 987h3v9h-3zM1530 987h3v12h-3zM1533 987h3v12h-3zM1536 984h3v9h-3zM1539 987h3v6h-3zM1542 984h3v9h-3zM1545 987h3v9h-3zM1548 981h3v12h-3zM1551 984h3v9h-3zM1554 981h3v9h-3zM1557 981h3v6h-3zM1560 978h3v9h-3zM1563 978h3v9h-3zM1566 978h3v9h-3zM1569 981h3v9h-3zM1572 978h3v9h-3zM1575 975h3v6h-3zM1578 972h3v15h-3zM1581 981h3v3h-3zM1584 972h3v12h-3zM1587 975h3v6h-3zM1590 966h3v15h-3zM1593 966h3v15h-3zM1596 963h3v12h-3zM1599 966h3v12h-3zM1602 963h3v9h-3zM1605 960h3v9h-3zM1608 957h3v12h-3zM1611 957h3v9h-3zM1614 954h3v12h-3zM1617 954h3v9h-3zM1620 960h3v6h-3zM1623 960h3v9h-3zM1626 963h3v9h-3zM1629 960h3v12h-3zM1632 966h3v9h-3zM1635 966h3v9h-3zM1638 966h3v9h-3zM1641 966h3v6h-3zM1644 969h3v6h-3zM1647 972h3v6h-3zM1650 975h3v15h-3zM1653 984h3v9h-3zM1656 990h3v6h-3zM1659 987h3v6h-3zM1662 987h3v6h-3zM1665 987h3v6h-3zM1668 987h3v9h-3zM1671 987h3v6h-3zM1674 987h3v12h-3zM1677 987h3v12h-3zM1680 987h3v6h-3zM1683 987h3v9h-3zM1686 987h3v12h-3zM1689 987h3v9h-3zM1692 990h3v6h-3zM1695 990h3v9h-3zM1698 993h3v6h-3zM1701 990h3v6h-3zM1704 990h3v9h-3zM1707 990h3v9h-3zM1710 987h3v12h-3zM1713 987h3v9h-3zM1716 987h3v9h-3zM1719 990h3v9h-3zM1722 987h3v12h-3zM1725 984h3v12h-3zM1728 990h3v6h-3zM1731 990h3v6h-3zM1734 987h3v9h-3zM1737 984h3v6h-3zM1740 987h3v9h-3zM1743 990h3v9h-3zM1746 987h3v9h-3zM1749 987h3v9h-3zM1752 990h3v27h-3zM1755 987h3v9h-3zM1758 987h3v3h-3zM1761 987h3v3h-3zM1764 987h3v9h-3zM1767 987h3v12h-3zM1770 990h3v9h-3zM1773 990h3v9h-3zM1776 993h3v6h-3zM1779 990h3v9h-3zM1782 987h3v12h-3zM1785 990h3v9h-3zM1788 987h3v6h-3zM1791 987h3v9h-3zM1794 987h3v6h-3zM1797 987h3v12h-3zM1800 987h3v9h-3zM1803 990h3v9h-3zM1806 990h3v6h-3zM1809 990h3v6h-3zM1812 990h3v3h-3zM1815 990h3v9h-3zM1818 990h3v6h-3zM1821 990h3v9h-3zM1824 990h3v9h-3zM1827 987h3v12h-3zM1830 990h3v9h-3zM1833 990h3v6h-3zM1836 987h3v6h-3zM1839 990h3v9h-3zM1842 990h3v9h-3zM1845 987h3v9h-3zM1848 990h3v9h-3zM1851 987h3v9h-3zM1854 987h3v12h-3zM1857 990h3v6h-3zM1860 993h3v6h-3zM1863 984h3v12h-3zM1866 984h3v9h-3zM1869 984h3v9h-3zM1872 984h3v6h-3zM1875 984h3v9h-3zM1878 984h3v6h-3zM1881 984h3v12h-3zM1884 984h3v12h-3zM1887 984h3v9h-3zM1890 987h3v9h-3zM1893 987h3v9h-3zM1896 984h3v6h-3zM1899 981h3v9h-3zM1902 981h3v9h-3zM1905 984h3v3h-3zM1908 984h3v9h-3zM1911 984h3v9h-3zM1914 981h3v9h-3zM1917 981h3v9h-3zM1920 984h3v9h-3zM1923 984h3v6h-3zM1926 981h3v12h-3zM1929 981h3v15h-3zM1932 987h3v6h-3zM1935 984h3v6h-3zM1938 981h3v9h-3zM1941 984h3v6h-3zM1944 984h3v9h-3zM1947 984h3v9h-3zM1950 984h3v9h-3zM1953 984h3v6h-3zM1956 984h3v6h-3zM1959 981h3v12h-3zM1962 981h3v3h-3z" fill="#000000"/>
<path d="M219 1407h3v6h-3zM222 1407h3v3h-3zM225 1404h3v6h-3zM228 1404h3v3h-3zM231 1404h3v3h-3zM234 1404h3v3h-3zM237 1401h3v6h-3zM240 1401h3v3h-3zM243 1401h3v3h-3zM246 1398h3v6h-3zM249 1398h3v3h-3zM252 1398h3v3h-3zM255 1395h3v6h-3zM258 1395h3v3h-3zM261 1392h3v6h-3zM264 1389h3v6h-3zM267 1386h3v6h-3zM270 1383h3v6h-3zM273 1380h3v6h-3zM276 1371h3v12h-3zM279 1362h3v12h-3zM282 1353h3v12h-3zM285 1341h3v15h-3zM288 1320h3v24h-3zM291 1293h3v30h-3zM294 1254h3v42h-3zM297 1206h3v51h-3zM300 1146h3v63h-3zM303 1071h3v78h-3zM306 1017h3v57h-3zM309 999h3v21h-3zM312 999h3v36h-3zM315 1032h3v51h-3zM318 1080h3v78h-3zM321 1155h3v66h-3zM324 1218h3v42h-3zM327 1257h3v36h-3zM330 1290h3v27h-3zM333 1314h3v24h-3zM336 1335h3v18h-3zM339 1350h3v15h-3zM342 1362h3v15h-3zM345 1374h3v9h-3zM348 1380h3v6h-3zM351 1383h3v9h-3zM354 1389h3v6h-3zM357 1392h3v6h-3zM360 1395h3v3h-3zM363 1395h3v6h-3zM366 1398h3v6h-3zM369 1401h3v3h-3zM372 1401h3v6h-3zM375 1404h3v3h-3zM378 1404h3v3h-3zM381 1404h3v3h-3zM384 1404h3v3h-3zM387 1404h3v3h-3zM390 1404h3v3h-3zM393 1404h3v6h-3zM396 1407h3v3h-3zM399 1407h3v3h-3zM402 1407h3v6h-3zM405 1410h3v3h-3zM408 1410h3v3h-3zM411 1410h3v3h-3zM414 1410h3v6h-3zM417 1413h3v3h-3zM420 1413h3v3h-3zM423 1413h3v3h-3zM426 1413h3v3h-3zM429 1413h3v3h-3zM432 1413h3v3h-3zM435 1413h3v3h-3zM438 1413h3v3h-3zM441 1413h3v3h-3zM444 1413h3v3h-3zM447 1413h3v3h-3zM450 1413h3v3h-3zM453 1413h3v3h-3zM456 1413h3v3h-3zM459 1413h3v3h-3zM462 1413h3v3h-3zM465 1413h3v3h-3zM468 1413h3v3h-3zM471 1413h3v3h-3zM474 1413h3v3h-3zM477 1413h3v3h-3zM480 1413h3v3h-3zM483 1413h3v3h-3zM486 1413h3v3h-3zM489 1413h3v3h-3zM492 1413h3v3h-3zM495 1413h3v3h-3zM498 1413h3v3h-3zM501 1413h3v3h-3zM504 1413h3v3h-3zM507 1413h3v3h-3zM510 1413h3v3h-3zM513 1413h3v3h-3zM516 1413h3v3h-3zM519 1413h3v3h-3zM522 1413h3v3h-3zM525 1413h3v3h-3zM528 1413h3v3h-3zM531 1413h3v3h-3zM534 1413h3v3h-3zM537 1413h3v3h-3zM540 1413h3v3h-3zM543 1413h3v3h-3zM546 1413h3v3h-3zM549 1413h3v3h-3zM552 1413h3v3h-3zM555 1413h3v3h-3zM558 1413h3v3h-3zM561 1413h3v3h-3zM564 1413h3v3h-3zM567 1413h3v3h-3zM570 1413h3v3h-3zM573 1413h3v3h-3zM576 1413h3v3h-3zM579 1413h3v3h-3zM582 1413h3v3h-3zM585 1413h3v3h-3zM588 1413h3v3h-3zM591 1413h3v3h-3zM594 1413h3v3h-3zM597 1413h3v3h-3zM600 1413h3v3h-3zM603 1413h3v3h-3zM606 1413h3v3h-3zM609 1413h3v3h-3zM612 1413h3v3h-3zM615 1413h3v3h-3zM618 1413h3v3h-3zM621 1413h3v3h-3zM624 1413h3v3h-3zM627 1413h3v3h-3zM630 1413h3v3h-3zM633 1413h3v3h-3zM636 1413h3v3h-3zM639 1413h3v3h-3zM642 1413h3v3h-3zM645 1413h3v3h-3zM648 1413h3v3h-3zM651 1413h3v3h-3zM654 1413h3v3h-3zM657 1413h3v3h-3zM660 1410h3v6h-3zM663 1410h3v3h-3zM666 1410h3v3h-3zM669 1410h3v3h-3zM672 1410h3v3h-3zM675 1407h3v6h-3zM678 1407h3v3h-3zM681 1404h3v6h-3zM684 1404h3v3h-3zM687 1401h3v6h-3zM690 1401h3v3h-3zM693 1398h3v6h-3zM696 1398h3v3h-3zM699 1398h3v3h-3zM702 1395h3v6h-3zM705 1395h3v3h-3zM708 1395h3v3h-3zM711 1395h3v3h-3zM714 1395h3v6h-3zM717 1398h3v3h-3zM720 1398h3v6h-3zM723 1401h3v3h-3zM726 1401h3v6h-3zM729 1404h3v3h-3zM732 1404h3v6h-3zM735 1407h3v3h-3zM738 1407h3v6h-3zM741 1410h3v3h-3zM744 1410h3v3h-3zM747 1410h3v6h-3zM750 1413h3v3h-3zM753 1413h3v3h-3zM756 1413h3v3h-3zM759 1413h3v3h-3zM762 1413h3v3h-3zM765 1413h3v3h-3zM768 1413h3v3h-3zM771 1413h3v3h-3zM774 1413h3v3h-3zM777 1413h3v3h-3zM780 1413h3v3h-3zM783 1413h3v3h-3zM786 1413h3v3h-3zM789 1413h3v3h-3zM792 1413h3v3h-3zM795 1413h3v3h-3zM798 1413h3v3h-3zM801 1413h3v3h-3zM804 1413h3v3h-3zM807 1413h3v3h-3zM810 1413h3v3h-3zM813 1413h3v3h-3zM816 1413h3v3h-3zM819 1413h3v3h-3zM822 1413h3v3h-3zM825 1413h3v3h-3zM828 1413h3v3h-3zM831 1413h3v3h-3zM834 1413h3v3h-3zM837 1413h3v3h-3zM840 1413h3v3h-3zM843 1413h3v3h-3zM846 1413h3v3h-3zM849 1413h3v3h-3zM852 1413h3v3h-3zM855 1413h3v3h-3zM858 1413h3v3h-3zM861 1410h3v6h-3zM864 1410h3v3h-3zM867 1410h3v3h-3zM870 1407h3v6h-3zM873 1404h3v6h-3zM876 1401h3v6h-3zM879 1401h3v3h-3zM882 1398h3v6h-3zM885 1398h3v3h-3zM888 1395h3v6h-3zM891 1395h3v3h-3zM894 1395h3v3h-3zM897 1395h3v3h-3zM900 1395h3v3h-3zM903 1395h3v3h-3zM906 1395h3v6h-3zM909 1398h3v3h-3zM912 1398h3v6h-3zM915 1401h3v6h-3zM918 1404h3v3h-3zM921 1404h3v6h-3zM924 1407h3v3h-3zM927 1407h3v3h-3zM930 1407h3v3h-3zM933 1407h3v3h-3zM936 1407h3v3h-3zM939 1407h3v3h-3zM942 1407h3v6h-3zM945 1410h3v3h-3zM948 1410h3v3h-3zM951 1410h3v3h-3zM954 1410h3v3h-3zM957 1410h3v3h-3zM960 1410h3v3h-3zM963 1410h3v3h-3zM966 1410h3v3h-3zM969 1410h3v3h-3zM972 1410h3v3h-3zM975 1410h3v3h-3zM978 1410h3v3h-3zM981 1410h3v3h-3zM984 1410h3v3h-3zM987 1410h3v3h-3zM990 1410h3v3h-3zM993 1410h3v3h-3zM996 1410h3v3h-3zM999 1410h3v3h-3zM1002 1410h3v3h-3zM1005 1410h3v3h-3zM1008 1410h3v3h-3zM1011 1410h3v3h-3zM1014 1410h3v3h-3zM1017 1410h3v3h-3zM1020 1410h3v3h-3zM1023 1410h3v3h-3zM1026 1410h3v3h-3zM1029 1410h3v3h-3zM1032 1407h3v6h-3zM1035 1407h3v3h-3zM1038 1407h3v3h-3zM1041 1404h3v6h-3zM1044 1404h3v3h-3zM1047 1404h3v3h-3zM1050 1401h3v6h-3zM1053 1401h3v3h-3zM1056 1401h3v3h-3zM1059 1398h3v6h-3zM1062 1395h3v6h-3zM1065 1395h3v3h-3zM1068 1392h3v6h-3zM1071 1389h3v6h-3zM1074 1389h3v3h-3zM1077 1386h3v6h-3zM1080 1383h3v6h-3zM1083 1380h3v6h-3zM1086 1377h3v6h-3zM1089 1377h3v6h-3zM1092 1380h3v6h-3zM1095 1383h3v6h-3zM1098 1386h3v6h-3zM1101 1389h3v6h-3zM1104 1392h3v6h-3zM1107 1395h3v6h-3zM1110 1398h3v3h-3zM1113 1398h3v6h-3zM1116 1401h3v6h-3zM1119 1404h3v3h-3zM1122 1404h3v3h-3zM1125 1404h3v6h-3zM1128 1407h3v3h-3zM1131 1407h3v6h-3zM1134 1410h3v3h-3zM1137 1410h3v3h-3zM1140 1410h3v6h-3zM1143 1413h3v3h-3zM1146 1413h3v3h-3zM1149 1413h3v3h-3zM1152 1413h3v3h-3zM1155 1413h3v3h-3zM1158 1413h3v3h-3zM1161 1413h3v3h-3zM1164 1413h3v3h-3zM1167 1413h3v6h-3zM1170 1416h3v3h-3zM1173 1416h3v3h-3zM1176 1416h3v3h-3zM1179 1416h3v3h-3zM1182 1416h3v3h-3zM1185 1416h3v3h-3zM1188 1416h3v3h-3zM1191 1416h3v3h-3zM1194 1416h3v3h-3zM1197 1416h3v3h-3zM1200 1416h3v6h-3zM1203 1419h3v3h-3zM1206 1419h3v3h-3zM1209 1419h3v3h-3zM1212 1419h3v3h-3zM1215 1419h3v3h-3zM1218 1419h3v3h-3zM1221 1419h3v3h-3zM1224 1419h3v3h-3zM1227 1419h3v3h-3zM1230 1419h3v3h-3zM1233 1419h3v3h-3zM1236 1419h3v3h-3zM1239 1419h3v3h-3zM1242 1419h3v3h-3zM1245 1419h3v3h-3zM1248 1419h3v3h-3zM1251 1419h3v3h-3zM1254 1419h3v3h-3zM1257 1419h3v3h-3zM1260 1419h3v3h-3zM1263 1419h3v3h-3zM1266 1419h3v3h-3zM1269 1419h3v3h-3zM1272 1419h3v3h-3zM1275 1419h3v3h-3zM1278 1419h3v3h-3zM1281 1419h3v3h-3zM1284 1419h3v3h-3zM1287 1419h3v3h-3zM1290 1419h3v3h-3zM1293 1419h3v3h-3zM1296 1419h3v3h-3zM1299 1419h3v3h-3zM1302 1419h3v3h-3zM1305 1419h3v3h-3zM1308 1419h3v3h-3zM1311 1419h3v3h-3zM1314 1419h3v3h-3zM1317 1419h3v3h-3zM1320 1419h3v3h-3zM1323 1419h3v3h-3zM1326 1419h3v3h-3zM1329 1419h3v3h-3zM1332 1419h3v3h-3zM1335 1419h3v3h-3zM1338 1419h3v3h-3zM1341 1419h3v3h-3z" fill="#ff00ff"/>
<line x1="227" y1="29.2" x2="227" y2="1428" stroke="#ff0000" stroke-width="3" stroke-dasharray="7.6 7.6" stroke-dashoffset="-0.4"/>
<line x1="261.4" y1="29.2" x2="261.4" y2="1428" stroke="#ff0000" stroke-width="3" stroke-dasharray="7.6 7.6" stroke-dashoffset="-0.4"/>
<line x1="313" y1="29.2" x2="313" y2="1428" stroke="#ff0000" stroke-width="3" stroke-dasharray="7.6 7.6" stroke-dashoffset="-0.4"/>
<line x1="709.6" y1="29.2" x2="709.6" y2="1428" stroke="#ff0000" stroke-width="3" stroke-dasharray="7.6 7.6" stroke-dashoffset="-0.4"/>
<line x1="861.3" y1="29.2" x2="861.3" y2="1428" stroke="#ff0000" stroke-width="3" stroke-dasharray="7.6 7.6" stroke-dashoffset="-0.4"/>
<line x1="938.2" y1="29.2" x2="938.2" y2="1428" stroke="#ff0000" stroke-width="3" stroke-dasharray="7.6 7.6" stroke-dashoffset="-0.4"/>
<line x1="1089.8" y1="29.2" x2="1089.8" y2="1428" stroke="#ff0000" stroke-width="3" stroke-dasharray="7.6 7.6" stroke-dashoffset="-0.4"/>
<line x1="1201" y1="29.2" x2="1201" y2="1428" stroke="#ff0000" stroke-width="3" stroke-dasharray="7.6 7.6" stroke-dashoffset="-0.4"/>
<rect x="212" y="31.5" width="1756" height="1393.3" fill="none" stroke="#000" stroke-width="5.6"/>
<line x1="406.0" y1="1424.8" x2="406.0" y2="1450.5" stroke="#000" stroke-width="5.6"/>
<line x1="718.4" y1="1424.8" x2="718.4" y2="1450.5" stroke="#000" stroke-width="5.6"/>
<line x1="1030.8" y1="1424.8" x2="1030.8" y2="1450.5" stroke="#000" stroke-width="5.6"/>
<line x1="1343.2" y1="1424.8" x2="1343.2" y2="1450.5" stroke="#000" stroke-width="5.6"/>
<line x1="1655.6" y1="1424.8" x2="1655.6" y2="1450.5" stroke="#000" stroke-width="5.6"/>
<line x1="1968.0" y1="1424.8" x2="1968.0" y2="1450.5" stroke="#000" stroke-width="5.6"/>
<line x1="249.8" y1="1424.8" x2="249.8" y2="1439" stroke="#000" stroke-width="5.6"/>
<line x1="562.2" y1="1424.8" x2="562.2" y2="1439" stroke="#000" stroke-width="5.6"/>
<line x1="874.6" y1="1424.8" x2="874.6" y2="1439" stroke="#000" stroke-width="5.6"/>
<line x1="1187.0" y1="1424.8" x2="1187.0" y2="1439" stroke="#000" stroke-width="5.6"/>
<line x1="1499.4" y1="1424.8" x2="1499.4" y2="1439" stroke="#000" stroke-width="5.6"/>
<line x1="1811.8" y1="1424.8" x2="1811.8" y2="1439" stroke="#000" stroke-width="5.6"/>
<line x1="186" y1="352" x2="212" y2="352" stroke="#000" stroke-width="5.6"/>
<line x1="186" y1="1424.8" x2="212" y2="1424.8" stroke="#000" stroke-width="5.6"/>
<line x1="199" y1="888.5" x2="212" y2="888.5" stroke="#000" stroke-width="5.6"/>
<line x1="1954.5" y1="1283.7" x2="1968" y2="1283.7" stroke="#000" stroke-width="5.6"/>
<line x1="1942.5" y1="1144.6" x2="1968" y2="1144.6" stroke="#000" stroke-width="5.6"/>
<line x1="1954.5" y1="1005.4" x2="1968" y2="1005.4" stroke="#000" stroke-width="5.6"/>
<line x1="1942.5" y1="866.2" x2="1968" y2="866.2" stroke="#000" stroke-width="5.6"/>
<line x1="1954.5" y1="727.1" x2="1968" y2="727.1" stroke="#000" stroke-width="5.6"/>
<line x1="1942.5" y1="587.9" x2="1968" y2="587.9" stroke="#000" stroke-width="5.6"/>
<line x1="1954.5" y1="448.7" x2="1968" y2="448.7" stroke="#000" stroke-width="5.6"/>
<line x1="1942.5" y1="309.5" x2="1968" y2="309.5" stroke="#000" stroke-width="5.6"/>
<line x1="1954.5" y1="170.4" x2="1968" y2="170.4" stroke="#000" stroke-width="5.6"/>
<line x1="386.5" y1="31.5" x2="386.5" y2="45.5" stroke="#000" stroke-width="5.6"/>
<line x1="562.2" y1="31.5" x2="562.2" y2="57.5" stroke="#000" stroke-width="5.6"/>
<line x1="737.9" y1="31.5" x2="737.9" y2="45.5" stroke="#000" stroke-width="5.6"/>
<line x1="913.6" y1="31.5" x2="913.6" y2="57.5" stroke="#000" stroke-width="5.6"/>
<line x1="1089.3" y1="31.5" x2="1089.3" y2="45.5" stroke="#000" stroke-width="5.6"/>
<line x1="1265.0" y1="31.5" x2="1265.0" y2="57.5" stroke="#000" stroke-width="5.6"/>
<line x1="1440.7" y1="31.5" x2="1440.7" y2="45.5" stroke="#000" stroke-width="5.6"/>
<line x1="1616.4" y1="31.5" x2="1616.4" y2="57.5" stroke="#000" stroke-width="5.6"/>
<line x1="1792.1" y1="31.5" x2="1792.1" y2="45.5" stroke="#000" stroke-width="5.6"/>
<g font-family='"Liberation Sans", Arial, sans-serif' fill="#000">
<text x="361.9" y="1504.5" font-size="50.5" letter-spacing="0.80">200</text>
<text x="674.9" y="1504.5" font-size="50.5" letter-spacing="0.80">400</text>
<text x="986.7" y="1504.5" font-size="50.5" letter-spacing="0.80">600</text>
<text x="1299.2" y="1504.5" font-size="50.5" letter-spacing="0.80">800</text>
<text x="1596.3" y="1504.5" font-size="50.5" letter-spacing="0.80">1000</text>
<text x="1908.7" y="1504.5" font-size="50.5" letter-spacing="0.80">1200</text>
<text x="82.6" y="365.7" font-size="50.5" letter-spacing="0.80">100</text>
<text x="139.8" y="1436.0" font-size="50.5">0</text>
<text x="837.4" y="1613.7" font-size="62" letter-spacing="-0.56">Raman shift (cm</text>
<text x="1284.5" y="1581.0" font-size="30" letter-spacing="-0.15">-1</text>
<text x="1317.8" y="1613.7" font-size="62">)</text>
<text transform="translate(77.4 962.3) rotate(-90)" x="0" y="0" font-size="62" letter-spacing="-0.22">Intensity (a.u.)</text>
<text x="372.6" y="124.0" font-size="57">*</text>
<text x="410.0" y="129.2" font-size="63" letter-spacing="0.29">TiO</text>
<text x="509.1" y="152.0" font-size="33">2</text>
<text x="371.7" y="223.4" font-size="58.5" stroke="#000" stroke-width="1.3">+</text>
<text x="425.8" y="223.0" font-size="63" letter-spacing="-2.66">SiO</text>
<text x="524.1" y="249.0" font-size="33">2</text>
<text x="370.4" y="318.5" font-size="63">°</text>
<text x="414.2" y="316.0" font-size="63" letter-spacing="-2.23">PDMS</text>
<text x="234.8" y="208.3" font-size="58.5" stroke="#000" stroke-width="1.3">+</text>
<text x="324.1" y="420.0" font-size="56">*</text>
<text x="721.1" y="362.8" font-size="56">*</text>
<text x="811.5" y="111.1" font-size="58.5" stroke="#000" stroke-width="1.3">+</text>
<text x="1092.8" y="266.0" font-size="56">*</text>
<text x="1213.2" y="166.0" font-size="63">°</text>
<line x1="1531" y1="1089.3" x2="1642.6" y2="1089.3" stroke="#0000ff" stroke-width="2.8"/>
<rect x="1532.5" y="1141.9" width="110.7" height="54.9" fill="none" stroke="#ff0000" stroke-width="3"/>
<line x1="1531" y1="1169.6" x2="1642.6" y2="1169.6" stroke="#00ff00" stroke-width="2.8"/>
<line x1="1531" y1="1246.4" x2="1642.6" y2="1246.4" stroke="#000000" stroke-width="2.8"/>
<line x1="1531" y1="1326.4" x2="1642.6" y2="1326.4" stroke="#ff00ff" stroke-width="2.8"/>
<text x="1656.5" y="1105.0" font-size="48.5" letter-spacing="-1.24">SiO</text>
<text x="1737.7" y="1124.3" font-size="26.5">2</text>
<text transform="translate(1753.6 1111.5) scale(1.3 1)" x="0" y="0" font-size="42.4">@</text>
<text x="1807.0" y="1105.0" font-size="48.5" letter-spacing="1.40">TiO</text>
<text x="1886.7" y="1124.3" font-size="26.5">2</text>
<text x="1656.5" y="1184.0" font-size="48.5" letter-spacing="-1.24">SiO</text>
<text x="1737.7" y="1203.3" font-size="26.5">2</text>
<text x="1753.8" y="1184.0" font-size="48.5" letter-spacing="1.80">-PDMS</text>
<text x="1656.5" y="1261.6" font-size="48.5" letter-spacing="-1.24">SiO</text>
<text x="1737.7" y="1281.0" font-size="26.5">2</text>
<text x="1655.0" y="1342.0" font-size="48.5" letter-spacing="1.00">TiO</text>
<text x="1734.7" y="1361.5" font-size="26.5">2</text>
</g>
<rect x="0" y="1616" width="2052" height="40" fill="#fff"/>
</svg>
</div>
</body></html>
